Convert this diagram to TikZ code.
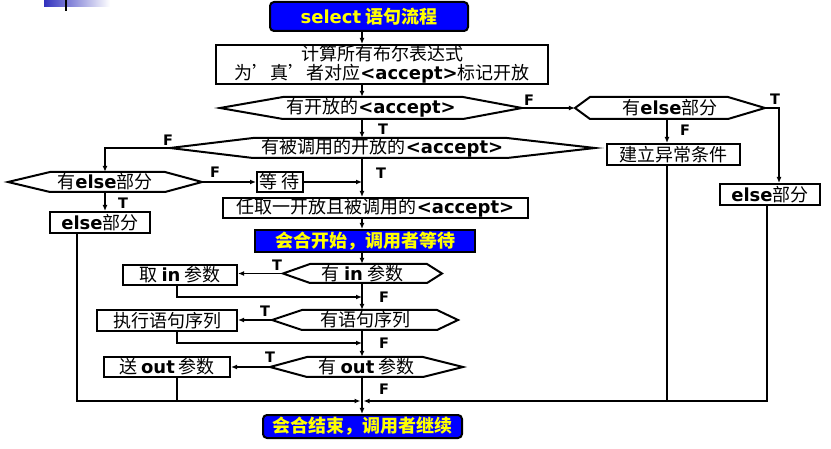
\documentclass[tikz,border=0pt]{standalone}
\usepackage{fontspec}
\setmainfont{Noto Sans CJK SC}
\newfontfamily\latin{DejaVu Sans}
\usepackage{tikz}
\usetikzlibrary{arrows.meta,positioning,calc}
\usepackage{xcolor}

\definecolor{titleblue}{RGB}{0,0,255}
\definecolor{titleyellow}{RGB}{255,255,0}
\definecolor{barblue}{RGB}{50,50,190}

\newcommand\kw[1]{{\latin\bfseries #1}}
% condition hexagon: name, left tip, top-left, top-right, right tip, top, bottom, text
\newcommand\hexcond[8]{%
  \draw[hexline] (#2,{(#6+#7)/2}) -- (#3,#6) -- (#4,#6) -- (#5,{(#6+#7)/2})
    -- (#4,#7) -- (#3,#7) -- cycle;
  \node[cond, minimum width={#5-#2}, minimum height={#7-#6}]
    (#1) at ({(#2+#5)/2},{(#6+#7)/2}) {#8};
}

\begin{document}
\begin{tikzpicture}[x=1pt, y=-1pt,
  font=\fontsize{18}{19}\selectfont,
  box/.style={draw, line width=2pt, fill=white, inner sep=0pt, align=center},
  startend/.style={box, fill=titleblue, text=titleyellow,
                   font=\fontsize{18}{19}\selectfont\bfseries},
  cond/.style={inner sep=0pt},
  hexline/.style={line width=2pt, line join=miter},
  line/.style={line width=1.9pt},
  arrow/.style={line, -{Latex[length=6pt,width=5pt]}},
  tf/.style={font=\latin\bfseries\fontsize{14.5}{14.5}\selectfont, inner sep=0pt}
]
\useasboundingbox (0,0) rectangle (831,449);

% slide decoration
\shade[left color=barblue, right color=white] (44,0) rectangle (110,7);
\draw[line width=2pt] (66,0) -- (66,11);

% guide lines
\coordinate (m)  at (362,0);
\coordinate (rT) at (779,0);
\coordinate (xF) at (667,0);
\coordinate (rB) at (767,0);
\coordinate (lL) at (77,0);
\coordinate (lb) at (177,0);

% boxes
\node[startend, rounded corners=4pt, minimum width=198, minimum height=29]
  (title) at (369,16.5) {\kw{select} 语句流程};
\node[box, minimum width=332, minimum height=39] (calc) at (382,64.5)
  {计算所有布尔表达式\\为’真’者对应\kw{<accept>}标记开放};
\node[box, minimum width=133, minimum height=21] (except) at (673.5,154.5) {建立异常条件};
\node[box, minimum width=100, minimum height=21] (elseR) at (770,194.5) {\kw{else}部分};
\node[box, minimum width=46, minimum height=20] (wait) at (280,182) {等 待};
\node[box, minimum width=305, minimum height=20] (pick) at (375.5,208)
  {任取一开放且被调用的\kw{<accept>}};
\node[startend, minimum width=220, minimum height=22] (meetS) at (365,241)
  {会合开始，调用者等待};
\node[box, minimum width=100, minimum height=21] (elseL) at (100,222.5) {\kw{else}部分};
\node[box, minimum width=114, minimum height=20] (takeIn) at (180,275) {取 \kw{in} 参数};
\node[box, minimum width=140, minimum height=21] (exec) at (167,320.5) {执行语句序列};
\node[box, minimum width=126, minimum height=20] (sendOut) at (167,367) {送 \kw{out} 参数};
\node[startend, rounded corners=4pt, minimum width=199, minimum height=23]
  (meetE) at (362.5,426.5) {会合结束，调用者继续};

% conditions
\hexcond{hasOpen}{220}{283}{463}{522}{97}{119}{有开放的\kw{<accept>}}
\hexcond{hasElseR}{575}{590}{728}{765}{97}{119}{有\kw{else}部分}
\hexcond{hasCalled}{170}{253}{507}{595}{138}{158}{有被调用的开放的\kw{<accept>}}
\hexcond{hasElseL}{8}{50}{165}{202}{172}{192}{有\kw{else}部分}
\hexcond{hasIn}{283}{310}{427}{442}{264}{283}{有 \kw{in} 参数}
\hexcond{hasStmt}{272}{302}{437}{458}{310}{330}{有语句序列}
\hexcond{hasOut}{270}{307}{423}{463}{357}{377}{有 \kw{out} 参数}

% junctions
\coordinate (j1) at (362,297);
\coordinate (j2) at (362,343);
\coordinate (j3) at (362,401);

% main line
\draw[arrow] (title.south -| m) -- (calc.north -| m);
\draw[arrow] (calc.south -| m) -- (hasOpen.north -| m);
\draw[arrow] (hasOpen.south -| m) -- (hasCalled.north -| m);
\draw[arrow] (hasCalled.south -| m) -- (pick.north -| m);
\draw[arrow] (pick.south -| m) -- (meetS.north -| m);
\draw[arrow] (meetS.south -| m) -- (hasIn.north -| m);
\draw[arrow] (hasIn.south -| m) -- (hasStmt.north -| m);
\draw[arrow] (hasStmt.south -| m) -- (hasOut.north -| m);
\draw[arrow] (hasOut.south -| m) -- (meetE.north -| m);

% right branch
\draw[arrow] (hasOpen.east) -- (hasElseR.west);
\draw[arrow] (hasElseR.east) -| (elseR.north -| rT);
\draw[arrow] (hasElseR.south -| xF) -- (except.north -| xF);

% left branch
\draw[arrow] (hasCalled.west) -| (hasElseL.north);
\draw[arrow] (hasElseL.east) -- (wait.west);
\draw[arrow] (wait.east) -- (wait.east -| m);
\draw[arrow] (hasElseL.south) -- (hasElseL.south |- elseL.north);

% parameter steps
\draw[arrow] (hasIn.west) -- (hasIn.west -| takeIn.east);
\draw[arrow] (takeIn.south -| lb) |- (j1);
\draw[arrow] (hasStmt.west) -- (hasStmt.west -| exec.east);
\draw[arrow] (exec.south -| lb) |- (j2);
\draw[arrow] (hasOut.west) -- (hasOut.west -| sendOut.east);

% collecting line
\draw[arrow, shorten >=1.5pt] (elseL.south -| lL) |- (j3);
\draw[line] (sendOut.south -| lb) -- (lb |- j3);
\draw[arrow, shorten >=1.5pt] (elseR.south -| rB) |- (j3);
\draw[line] (except.south -| xF) -- (xF |- j3);

% T / F labels
\node[tf] (tOpen)   at (383,129) {T};
\node[tf] (fOpen)   at (529,100) {F};
\node[tf] (tElseR)  at (775,99)  {T};
\node[tf] (fElseR)  at (685,130) {F};
\node[tf] (fCalled) at (168,140) {F};
\node[tf] (tCalled) at (381,173) {T};
\node[tf] (fElseL)  at (215,172) {F};
\node[tf] (tElseL)  at (123,203) {T};
\node[tf] (tIn)     at (277,265) {T};
\node[tf] (fIn)     at (384,297) {F};
\node[tf] (tStmt)   at (265,311) {T};
\node[tf] (fStmt)   at (384,343) {F};
\node[tf] (tOut)    at (270,357) {T};
\node[tf] (fOut)    at (384,389) {F};
\end{tikzpicture}
\end{document}
